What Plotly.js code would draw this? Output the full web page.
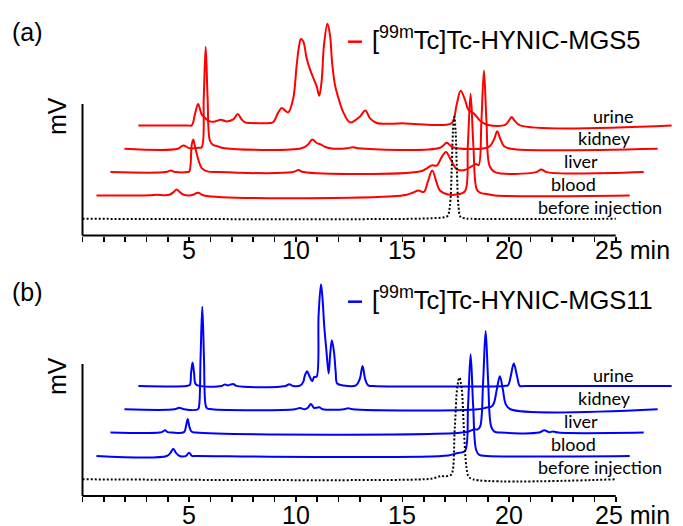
<!DOCTYPE html>
<html><head><meta charset="utf-8">
<script src="https://cdn.plot.ly/plotly-3.0.1.min.js"></script>
<style>html,body{margin:0;padding:0;background:#fff}#chart{width:683px;height:526px}</style>
</head><body><div id="chart"></div>
<script>
// ---------- DATA (retention time in min, signal in arbitrary mV units) ----------
const tickValues = [0,1,2,3,4,5,6,7,8,9,10,11,12,13,14,15,16,17,18,19,20,21,22,23,24,25];
const labelValues = [5, 10, 15, 20];
const labelTexts = ['5', '10', '15', '20'];
const sampleNames = ['before injection','blood','liver','kidney','urine'];

// (a) [99mTc]Tc-HYNIC-MGS5
const mgs5BeforeT  = [0, 15.5, 16.6, 16.95, 17.12, 17.22, 17.31, 17.37, 17.43, 17.49, 17.55, 17.63, 17.72, 17.9, 18.2, 25];
const mgs5BeforeMV = [0, 0, 0.8, 1.5, 3, 12, 50, 88, 102, 88, 50, 12, 2, 0.5, 0, 0];
const mgs5BloodT  = [0, 2.5, 2.82, 3.2, 3.45, 3.62, 3.76, 3.9, 4.06, 4.38, 4.5, 4.77, 5.04, 14.5, 14.85, 15.09, 15.35, 15.54, 15.74, 15.96, 16.1, 16.49, 16.9, 17.27, 17.41, 17.54, 17.67, 17.83, 18.0, 18.3, 18.68, 25];
const mgs5BloodMV = [0, 0.3, 0.7, 0.3, 1, 3.5, 6, 3.5, 1, 0, 0.5, 2.7, 0, 0.5, 3, 5, 3.5, 14, 25, 12, 5, 1, 1, 4, 50, 101.7, 50, 6, 2.5, 1.5, 0, 0];
const mgs5LiverT  = [0, 2.6, 2.83, 3.05, 3.6, 3.7, 3.81, 3.88, 3.96, 4.12, 4.28, 4.54, 5.0, 8.55, 8.81, 9.05, 14.5, 14.85, 15.06, 15.3, 15.53, 15.73, 15.92, 16.23, 16.6, 16.95, 17.14, 17.26, 17.39, 17.51, 17.63, 17.78, 18.03, 19.95, 20.2, 20.45, 25];
const mgs5LiverMV = [0, 0, 1.5, 0, 0, 0.7, 27, 32.7, 26, 12.4, 4, 0.7, 0, 0, 2, 0, 0.5, 4, 6.7, 6.5, 15, 20, 14, 3, 2, 6, 8, 7, 50, 101.7, 50, 6, 0, 0, 2.7, 0, 0];
const mgs5KidneyT  = [0, 2.5, 2.76, 3.05, 3.46, 3.62, 3.72, 3.81, 3.9, 4.01, 4.15, 4.35, 4.7, 8.3, 8.6, 8.81, 9.0, 9.2, 9.4, 9.64, 10.45, 10.7, 10.95, 14.8, 15.11, 15.4, 16.9, 17.15, 17.34, 17.48, 17.62, 17.8, 18.1, 25];
const mgs5KidneyMV = [0, 0, 3.3, 0.5, 1, 1.5, 51, 102, 51, 8, 4, 2.6, 0.5, 0.5, 4, 9.3, 6, 4.3, 2, 0.5, 0.5, 1.6, 0.5, 1, 6, 1.5, 0.5, 3, 10, 17.6, 10, 2.5, 0, 0];
const mgs5UrineT  = [0, 2.3, 2.5, 2.65, 2.8, 2.97, 3.2, 3.36, 3.59, 3.86, 4.14, 4.45, 4.66, 4.84, 5.0, 5.3, 6.17, 6.33, 6.56, 6.72, 6.87, 7.03, 7.26, 7.42, 7.53, 7.62, 7.73, 7.89, 8.05, 8.2, 8.36, 8.48, 8.59, 8.7, 8.86, 8.98, 9.09, 9.22, 9.37, 9.61, 9.92, 10.39, 10.64, 10.86, 11.17, 12.5, 14.0, 14.69, 14.92, 15.11, 15.31, 15.47, 15.75, 16.02, 16.33, 17.2, 17.38, 17.5, 17.63, 17.9, 25];
const mgs5UrineMV = [0, 0, 0, 11, 21.4, 11, 6, 4, 4, 5.7, 4, 6, 11.4, 6, 3, 2.4, 2.4, 3.4, 13, 17.4, 15, 13, 27, 60, 79, 86.4, 84, 67, 55.7, 47.4, 39, 29.7, 44, 80, 101.7, 91, 61, 40, 28, 13, 3, 9, 15, 7, 2.4, 2, 0.5, 2.3, 20.7, 34.7, 25.7, 15.7, 11.4, 4.7, 0.7, 0.5, 5, 8.4, 5, 0, 0];

// (b) [99mTc]Tc-HYNIC-MGS11
const mgs11BeforeT  = [0, 16.0, 16.45, 16.75, 16.84, 16.95, 17.15, 17.3, 17.45, 17.57, 17.67, 17.78, 17.88, 18.0, 18.1, 18.3, 25];
const mgs11BeforeMV = [0, 0, 1, 3, 3.3, 3, 3.5, 5, 50, 92, 101.7, 90, 50, 12, 3, 0, 0];
const mgs11BloodT  = [0, 3.3, 3.47, 3.6, 3.73, 3.9, 4.2, 4.34, 4.48, 4.7, 16.5, 16.85, 17.05, 17.28, 17.42, 17.54, 17.66, 17.8, 17.95, 18.3, 25];
const mgs11BloodMV = [0, 0, 3, 7.3, 3, 0, 0, 3.3, 0, 0, 0.5, 2.5, 3.3, 5, 50, 101.7, 50, 6, 1, 0, 0];
const mgs11LiverT  = [0, 2.3, 2.45, 2.56, 2.68, 2.9, 3.45, 3.54, 3.62, 3.7, 3.8, 4.0, 16.7, 16.95, 17.09, 17.2, 17.33, 17.47, 17.59, 17.71, 17.85, 18.0, 18.3, 20.1, 20.34, 20.55, 20.76, 21.0, 25];
const mgs11LiverMV = [0, 0, 1, 2.3, 0.5, 0, 0.5, 6, 13.7, 6, 1, 0, 0.5, 2.5, 3.4, 3, 6, 50, 101.7, 50, 6, 1, 0, 0, 2.4, 0.5, 1, 0, 0];
const mgs11KidneyT  = [0, 2.35, 2.57, 2.8, 3.45, 3.5, 3.57, 3.65, 3.73, 3.8, 3.87, 4.1, 8.0, 8.23, 8.45, 8.6, 8.74, 8.88, 9.0, 9.13, 9.3, 10.3, 10.49, 10.7, 16.6, 16.98, 17.2, 17.32, 17.46, 17.6, 17.74, 17.88, 18.1, 25];
const mgs11KidneyMV = [0, 0, 1.6, 0, 0, 3, 51, 102.6, 51, 5, 1, 0, 0, 1.3, 0, 1.5, 5.3, 1.5, 1.5, 2, 0, 0, 1, 0, 0, 1.7, 2.5, 6, 20, 33, 20, 5, 0, 0];
const mgs11UrineT  = [0, 2.25, 2.41, 2.47, 2.54, 2.61, 2.68, 2.85, 3.9, 4.06, 4.2, 4.44, 4.6, 6.9, 7.07, 7.25, 7.6, 7.73, 7.8, 7.91, 8.0, 8.15, 8.24, 8.35, 8.45, 8.56, 8.64, 8.71, 8.82, 8.92, 8.99, 9.07, 9.17, 9.25, 9.32, 9.6, 10.2, 10.38, 10.51, 10.63, 10.77, 11.0, 17.15, 17.33, 17.45, 17.6, 17.76, 17.88, 18.1, 25];
const mgs11UrineMV = [0, 0, 1, 13, 23.4, 13, 2, 0, 0, 1.5, 0.5, 2, 0, 0, 1.7, 0, 0.5, 4, 10, 14.7, 10.7, 4.7, 9, 9, 71, 101.7, 85, 60.7, 34, 12.4, 31, 45.7, 34, 14, 2.4, 0.5, 0.5, 7, 20, 7, 0.5, 0, 0, 0.7, 9, 22.4, 9, 0, 0, 0];

// ---------- LAYOUT GEOMETRY ----------
const W = 683, H = 526;
const X0PX = 82.5, PX_PER_MIN = 21.33;      // 0 min at x=82.5 px
const STEP_T = 0.655, BASE0 = 16.7, STEP_MV = 23.35;  // waterfall offsets
const RED = '#ff0000', BLUE = '#0000ff';
const ARIAL = 'Liberation Sans, Arial, sans-serif';
const LABELFONT = 'Lato, Carlito, sans-serif';

function stacked(t, mv, k, color, dash, xa, ya) {
  return {type:'scatter', mode:'lines', xaxis:xa, yaxis:ya, hoverinfo:'skip',
    x: t.map(v => v + k*STEP_T), y: mv.map(v => v + BASE0 + k*STEP_MV),
    line:{color:color, width:2, shape:'spline', smoothing:1, dash:dash}};
}
const panels = [
  {xa:'x', ya:'y', color:RED, sets:[[mgs5BeforeT,mgs5BeforeMV],[mgs5BloodT,mgs5BloodMV],[mgs5LiverT,mgs5LiverMV],[mgs5KidneyT,mgs5KidneyMV],[mgs5UrineT,mgs5UrineMV]]},
  {xa:'x2', ya:'y2', color:BLUE, sets:[[mgs11BeforeT,mgs11BeforeMV],[mgs11BloodT,mgs11BloodMV],[mgs11LiverT,mgs11LiverMV],[mgs11KidneyT,mgs11KidneyMV],[mgs11UrineT,mgs11UrineMV]]}
];
const data = [];
panels.forEach(p => {
  for (let k = 4; k >= 0; k--) {
    const s = p.sets[k];
    data.push(stacked(s[0], s[1], k, k===0 ? '#000' : p.color, k===0 ? '2px,2px' : 'solid', p.xa, p.ya));
  }
});

const P = x => x / W, Q = y => 1 - y / H;
const xrange = [-X0PX/PX_PER_MIN, (W - X0PX)/PX_PER_MIN];
function xAxis(anchor) {
  return {domain:[0,1], range:xrange, anchor:anchor, showline:false, showgrid:false, zeroline:false,
    ticks:'outside', ticklen:5, tickwidth:1.5, tickcolor:'#000', tickmode:'array',
    tickvals:tickValues, showticklabels:false, fixedrange:true};
}
const AX1 = 235.5, AX2 = 496, YTOP1 = 104, YTOP2 = 364;
const layout = {
  width:W, height:H, margin:{l:0,r:0,t:0,b:0}, paper_bgcolor:'#fff', plot_bgcolor:'rgba(0,0,0,0)',
  showlegend:false,
  xaxis: xAxis('y'),
  xaxis2: xAxis('y2'),
  yaxis: {domain:[Q(AX1), 1], range:[0, AX1], visible:false, fixedrange:true},
  yaxis2: {domain:[Q(AX2), Q(262)], range:[0, AX2-262], visible:false, fixedrange:true},
  shapes: [
    {type:'line', xref:'x', yref:'paper', x0:0, x1:25, y0:Q(AX1), y1:Q(AX1), line:{color:'#000', width:2}},
    {type:'line', xref:'x', yref:'paper', x0:0, x1:0, y0:Q(AX1), y1:Q(YTOP1), line:{color:'#000', width:2}},
    {type:'line', xref:'x2', yref:'paper', x0:0, x1:25, y0:Q(AX2), y1:Q(AX2), line:{color:'#000', width:2}},
    {type:'line', xref:'x2', yref:'paper', x0:0, x1:0, y0:Q(AX2), y1:Q(YTOP2), line:{color:'#000', width:2}},
    {type:'line', xref:'paper', yref:'paper', x0:P(348), x1:P(362), y0:Q(41.7), y1:Q(41.7), line:{color:RED, width:2.5}},
    {type:'line', xref:'paper', yref:'paper', x0:P(348), x1:P(362), y0:Q(301.7), y1:Q(301.7), line:{color:BLUE, width:2.5}}
  ],
  annotations: []
};
function ann(text, x, y, font, size, opts) {
  layout.annotations.push(Object.assign({text:text, xref:'paper', yref:'paper', x:P(x), y:Q(y),
    showarrow:false, xanchor:'center', yanchor:'middle', font:{family:font, size:size, color:'#000'}}, opts||{}));
}
// tick labels placed through the x axes' own scales
labelValues.forEach((v, i) => {
  layout.annotations.push({text:labelTexts[i], xref:'x', yref:'paper', x:v, y:Q(250), showarrow:false,
    xanchor:'center', yanchor:'middle', font:{family:ARIAL, size:25, color:'#000'}});
  layout.annotations.push({text:labelTexts[i], xref:'x2', yref:'paper', x:v, y:Q(515), showarrow:false,
    xanchor:'center', yanchor:'middle', font:{family:ARIAL, size:25, color:'#000'}});
});
ann('25 min', 632.5, 250, ARIAL, 25);
ann('25 min', 632.5, 515, ARIAL, 25);
ann('(a)', 27.5, 32, ARIAL, 25);
ann('(b)', 27.5, 292, ARIAL, 25);
ann('mV', 57, 116, ARIAL, 25, {textangle:-90});
ann('mV', 57, 376, ARIAL, 25, {textangle:-90});
ann('[<sup>99m</sup>Tc]Tc-HYNIC-MGS5', 370, 38, ARIAL, 25.5, {xanchor:'left'});
ann('[<sup>99m</sup>Tc]Tc-HYNIC-MGS11', 370, 298, ARIAL, 25.5, {xanchor:'left'});
const labelX = [599.7, 573.5, 581.3, 604.8, 612.8];
const labelBase = [213.3, 190, 167.3, 144.3, 121.7];
sampleNames.forEach((n, i) => {
  ann(n, labelX[i], labelBase[i] - 6, LABELFONT, 18);
  ann(n, labelX[i], labelBase[i] + 259.7 - 6, LABELFONT, 18);
});

Plotly.newPlot('chart', data, layout, {staticPlot:true, displayModeBar:false});
</script></body></html>
